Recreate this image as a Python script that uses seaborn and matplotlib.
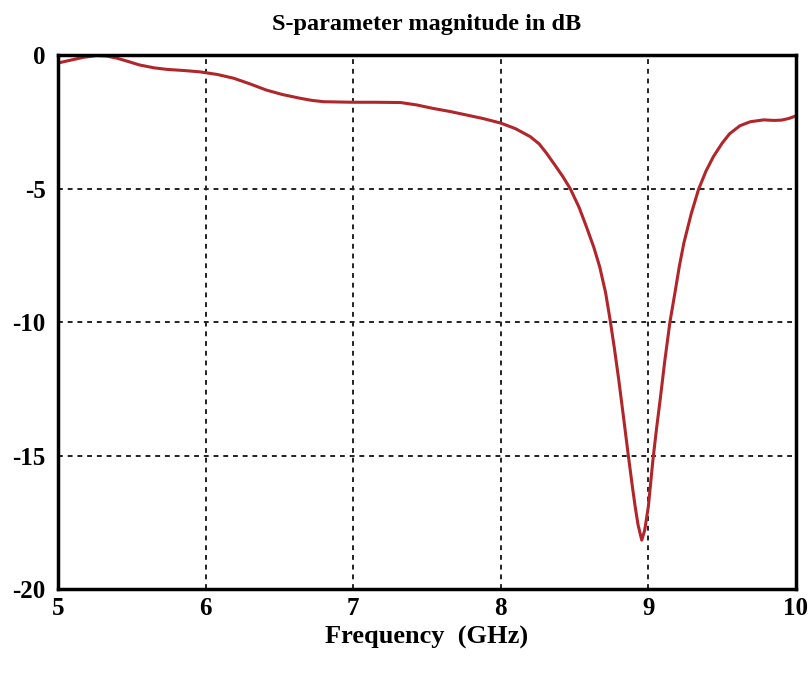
import matplotlib
matplotlib.use("Agg")
import pandas as pd
import matplotlib.pyplot as plt
import seaborn as sns

# S11 curve (frequency in GHz, magnitude in dB)
freq_ghz = [5.0, 5.08, 5.17, 5.26, 5.33, 5.4, 5.48, 5.55, 5.65, 5.74, 5.85,
            5.96, 6.08, 6.19, 6.3, 6.41, 6.52, 6.64, 6.72, 6.8, 6.9, 7.0,
            7.15, 7.32, 7.43, 7.54, 7.66, 7.77, 7.88, 8.0, 8.1, 8.2, 8.26,
            8.31, 8.37, 8.42, 8.47, 8.53, 8.58, 8.63, 8.67, 8.71, 8.74, 8.77,
            8.8, 8.83, 8.864, 8.89, 8.91, 8.93, 8.955, 8.975, 9.0, 9.03,
            9.055, 9.08, 9.11, 9.146, 9.18, 9.21, 9.24, 9.29, 9.34, 9.39,
            9.44, 9.5, 9.55, 9.62, 9.69, 9.78, 9.85, 9.9, 9.95, 10.0]
mag_db = [-0.3, -0.2, -0.09, -0.02, -0.04, -0.12, -0.25, -0.37, -0.48, -0.54,
          -0.58, -0.63, -0.73, -0.87, -1.08, -1.31, -1.48, -1.62, -1.7, -1.75,
          -1.76, -1.77, -1.77, -1.78, -1.87, -2.0, -2.12, -2.25, -2.38, -2.55,
          -2.76, -3.06, -3.33, -3.68, -4.15, -4.55, -5.0, -5.7, -6.43, -7.2,
          -7.93, -8.9, -9.9, -11.0, -12.2, -13.5, -15.0, -16.1, -16.9, -17.6,
          -18.17, -17.8, -16.9, -15.2, -14.0, -12.9, -11.5, -10.0, -8.9,
          -7.9, -7.05, -5.95, -5.03, -4.35, -3.81, -3.3, -2.95, -2.65, -2.5,
          -2.43, -2.45, -2.44, -2.38, -2.28]
x_ticks = [5, 6, 7, 8, 9, 10]
y_ticks = [0, -5, -10, -15, -20]

df = pd.DataFrame({"freq": freq_ghz, "db": mag_db})

sns.set_style("white")
plt.rcParams["font.family"] = ["Liberation Serif", "DejaVu Serif"]
plt.rcParams["axes.unicode_minus"] = False

fig = plt.figure(figsize=(8.11, 6.74), dpi=100)
ax = fig.add_axes([0.0715, 0.1261, 0.910, 0.7923])

sns.lineplot(data=df, x="freq", y="db", color="#b0262a", linewidth=2.2, ax=ax)

ax.set_xlim(5, 10)
ax.set_ylim(-20, 0)
ax.set_xticks(x_ticks)
ax.set_yticks(y_ticks)
ax.grid(True, color="#222222", linestyle=(0, (2.5, 2.5)), linewidth=1.4)
for s in ax.spines.values():
    s.set_color("black")
    s.set_linewidth(2.5)
ax.tick_params(axis="both", length=0, labelsize=18, colors="black")
ax.tick_params(axis="x", pad=6)
ax.tick_params(axis="y", pad=9)
for lbl in ax.get_xticklabels() + ax.get_yticklabels():
    lbl.set_fontweight("bold")

ax.set_title("S-parameter magnitude in dB", fontsize=17.5, fontweight="bold",
             color="black", pad=18)
ax.set_xlabel("Frequency  (GHz)", fontsize=19, fontweight="bold",
              color="black", labelpad=4)
ax.set_ylabel("")

fig.savefig("out.png", dpi=100, facecolor="white")
